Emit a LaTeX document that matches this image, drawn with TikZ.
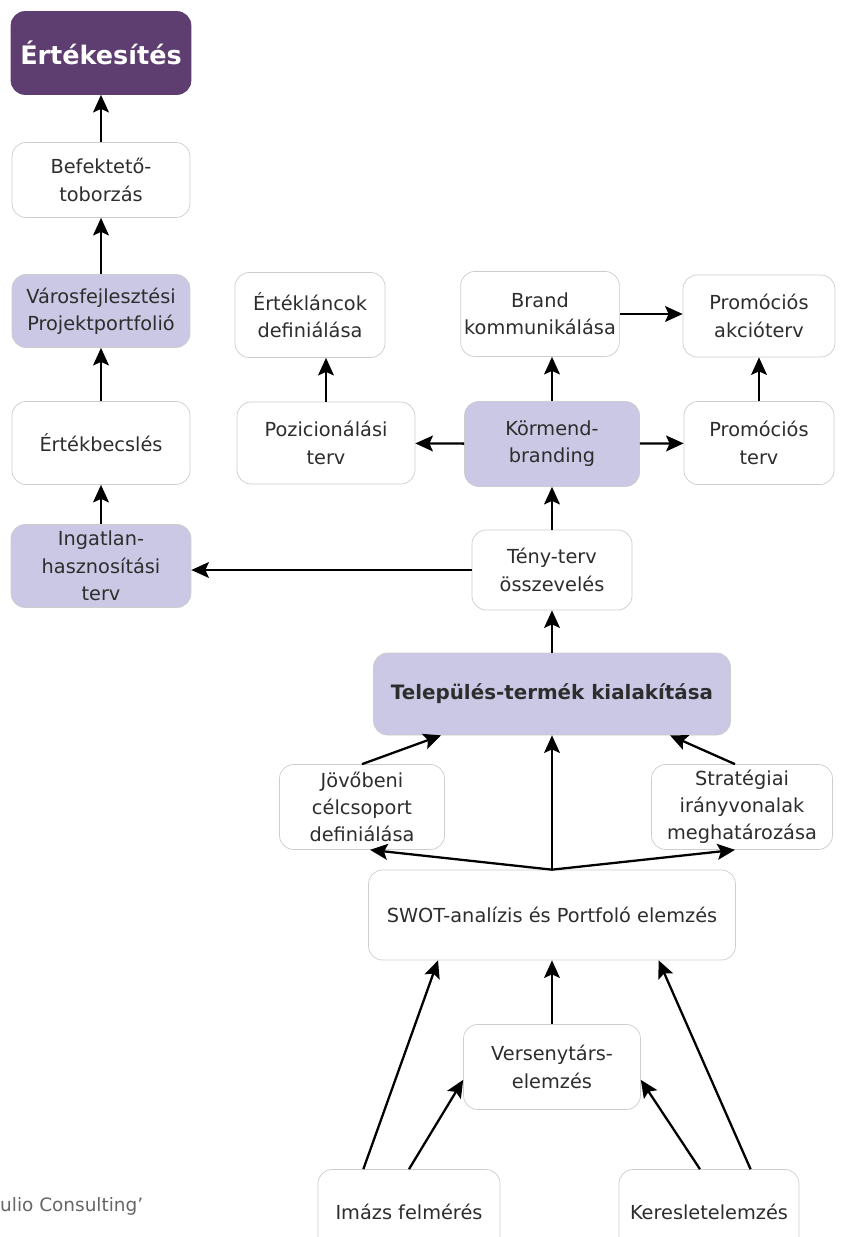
\documentclass[tikz,border=0pt]{standalone}
\usepackage{fontspec}
\setmainfont{DejaVu Sans}
\usepackage{tikz}
\usetikzlibrary{arrows,arrows.meta,shapes,positioning,calc}
\definecolor{kbpurple}{RGB}{94,61,112}
\definecolor{kblavender}{RGB}{202,200,228}
\definecolor{kbgray}{RGB}{205,205,205}
\definecolor{kbtext}{RGB}{45,45,45}
\tikzstyle{arrow} = [line width=1.3pt,->,>={Stealth[length=10pt,width=9pt,inset=2pt]},color=black]
\tikzstyle{stepbox} = [rectangle, rounded corners=8pt, align=center, draw=kbgray, fill=white, text=kbtext, inner sep=2pt, font=\fontsize{11}{15.5}\selectfont]
\tikzstyle{keybox} = [stepbox, fill=kblavender]
\tikzstyle{topbox} = [stepbox, fill=kbpurple, draw=kbpurple, text=white, font=\bfseries\fontsize{14.5}{17}\selectfont]

\begin{document}
\begin{tikzpicture}[x=0.02cm,y=-0.02cm]
\clip (0,0) rectangle (850,1237);
\fill[white] (0,0) rectangle (850,1237);

% left column
\node[topbox, minimum width=3.6cm, minimum height=1.66cm] (ert) at (101,53) {Értékesítés};
\node[stepbox, minimum width=3.56cm, minimum height=1.5cm] (bef) at (101,180) {Befektető-\\toborzás};
\node[keybox, minimum width=3.56cm, minimum height=1.46cm] (varos) at (101,311) {Városfejlesztési\\Projektportfolió};
\node[stepbox, minimum width=3.56cm, minimum height=1.66cm] (becsles) at (101,443) {Értékbecslés};
\node[keybox, minimum width=3.6cm, minimum height=1.66cm] (ingatlan) at (101,566) {Ingatlan-\\hasznosítási\\terv};

% branding block
\node[stepbox, minimum width=3cm, minimum height=1.7cm] (lanc) at (310,315) {Értékláncok\\definiálása};
\node[stepbox, minimum width=3.04cm, minimum height=1.7cm] (brand) at (540,314) {Brand\\kommunikálása};
\node[stepbox, minimum width=3.04cm, minimum height=1.64cm] (akcio) at (759,316) {Promóciós\\akcióterv};
\node[stepbox, minimum width=3.56cm, minimum height=1.64cm] (pozic) at (326,443) {Pozicionálási\\terv};
\node[keybox, minimum width=3.5cm, minimum height=1.7cm] (kormend) at (552,444) {Körmend-\\branding};
\node[stepbox, minimum width=3cm, minimum height=1.66cm] (promterv) at (759,443) {Promóciós\\terv};
\node[stepbox, minimum width=3.2cm, minimum height=1.6cm] (teny) at (552,570) {Tény-terv\\összevelés};

% product
\node[keybox, minimum width=7.14cm, minimum height=1.64cm, font=\bfseries\fontsize{11.3}{13}\selectfont] (telep) at (552,694) {Település-termék kialakítása};
\node[stepbox, minimum width=3.3cm, minimum height=1.7cm] (jovo) at (362,807) {Jövőbeni\\célcsoport\\definiálása};
\node[stepbox, minimum width=3.62cm, minimum height=1.7cm] (strat) at (742,807) {Stratégiai\\irányvonalak\\meghatározása};

% analysis
\node[stepbox, minimum width=7.34cm, minimum height=1.8cm] (swot) at (552,915) {SWOT-analízis és Portfoló elemzés};
\node[stepbox, minimum width=3.54cm, minimum height=1.7cm] (verseny) at (552,1067) {Versenytárs-\\elemzés};
\node[stepbox, minimum width=3.64cm, minimum height=1.7cm] (imazs) at (409,1212) {Imázs felmérés};
\node[stepbox, minimum width=3.6cm, minimum height=1.7cm] (keres) at (709,1212) {Keresletelemzés};

\node[anchor=west, text=black!60, font=\fontsize{10.5}{12}\selectfont] (forras) at (-6,1206) {ulio Consulting'};

% arrows
\draw[arrow] (bef) -- (ert);
\draw[arrow] (varos) -- (bef);
\draw[arrow] (becsles) -- (varos);
\draw[arrow] (ingatlan) -- (becsles);
\draw[arrow] (teny.west) -- (teny.west -| ingatlan.east);
\draw[arrow] (teny) -- (kormend);
\draw[arrow] (kormend.north) -- (kormend.north |- brand.south);
\draw[arrow] (kormend) -- (pozic);
\draw[arrow] (kormend) -- (promterv);
\draw[arrow] (brand.east) -- (brand.east -| akcio.west);
\draw[arrow] (pozic.north) -- (pozic.north |- lanc.south);
\draw[arrow] (promterv) -- (akcio);
\draw[arrow] (telep) -- (teny);
\draw[arrow] (jovo.north) -- ($(telep.south west)!0.19!(telep.south east)$);
\draw[arrow] ($(strat.north)+(-7,0)$) -- ($(telep.south west)!0.83!(telep.south east)$);
\draw[arrow] (swot.north) -- (telep.south);
\draw[arrow] (swot.north) -- ($(jovo.south)+(8,0)$);
\draw[arrow] (swot.north) -- ($(strat.south)+(-7,0)$);
\draw[arrow] (verseny) -- (swot);
\draw[arrow] ($(imazs.north west)!0.25!(imazs.north east)$) -- ($(swot.south west)!0.19!(swot.south east)$);
\draw[arrow] (imazs.north) -- ($(verseny.south west)!0.35!(verseny.north west)$);
\draw[arrow] ($(keres.north west)!0.45!(keres.north east)$) -- ($(verseny.south east)!0.35!(verseny.north east)$);
\draw[arrow] ($(keres.north west)!0.73!(keres.north east)$) -- ($(swot.south west)!0.79!(swot.south east)$);
\end{tikzpicture}
\end{document}
